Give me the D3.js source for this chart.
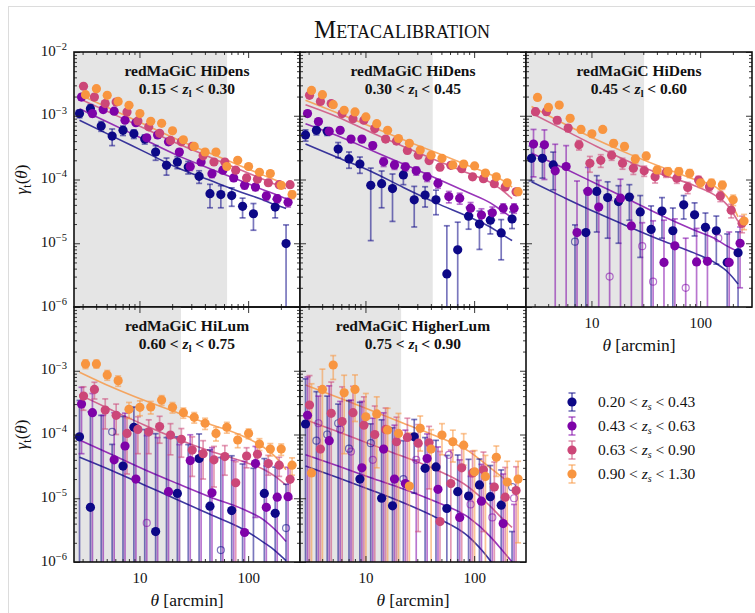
<!DOCTYPE html>
<html>
<head>
<meta charset="utf-8">
<script src="https://cdn.jsdelivr.net/npm/d3@7"></script>
<style>
    body { margin: 0; background: #fff; }
    svg text { font-family: "Liberation Serif", "DejaVu Serif", serif; fill: #111; }
</style>
</head>
<body>
<svg id="chart" width="755" height="613"></svg>
<script>
// angular bins (arcmin) of the measurement and of the model curves
const theta = [2.81, 3.54, 4.45, 5.61, 7.06, 8.89, 11.19, 14.09, 17.74, 22.33,
    28.11, 35.39, 44.56, 56.09, 70.61, 88.90, 111.9, 140.9, 177.4, 223.3];
const thetaModel = [2.81, 5.61, 11.19, 22.33, 44.56, 88.90, 140.9, 177.4, 223.3];

const panelNames = ['redMaGiC HiDens', 'redMaGiC HiDens', 'redMaGiC HiDens', 'redMaGiC HiLum', 'redMaGiC HigherLum'];
const lensRanges = [['0.15', '0.30'], ['0.30', '0.45'], ['0.45', '0.60'], ['0.60', '0.75'], ['0.75', '0.90']];
const scaleCuts = [64, 41.6, 30.5, 24.1, 21.3];
const sourceRanges = [['0.20', '0.43'], ['0.43', '0.63'], ['0.63', '0.90'], ['0.90', '1.30']];

// gamma_t in units of 1e-5, one row per source bin; negative values are drawn hollow
const gammaL1 = [
    [108, 129, 69, 48, 59, 52, 43, 27, 16.7, 18.8, 15.7, 11.2, 6.0, 5.8, 5.6, 3.8, 2.9, null, 3.7, 0.99],
    [196, 108, 125, 118, 85, 78, 45, 50, 39, 27, 16, 18.8, 12.3, 14, 10.6, 8.1, 7.6, 5.5, 5.0, 4.4],
    [290, 196, 155, 164, 115, 83, 67, 53, 41, 39, 33, 23.5, 18.8, 18.8, 14, 10.6, 10.1, 8.9, 8.3, 8.3],
    [214, 266, 209, 168, 146, 108, 82, 76, 58, 42, 33, 27, 27, 16, 20, 16, 13, 12.4, 8.1, 5.8]
];
const errorL1 = [
    [15, 20, 12, 14, 10, 8, 7, 7, 5, 4, 3.5, 2.5, 2.4, 2.2, 1.8, 1.3, 1.3, null, 1.2, 0.95],
    [20, 12, 12, 11, 8, 7, 5, 5, 4, 3, 2.2, 2, 1.6, 1.5, 1.2, 1, 0.9, 0.8, 0.7, 0.7],
    [25, 18, 14, 14, 10, 8, 6, 5, 4, 3.5, 3, 2.3, 1.9, 1.7, 1.4, 1.1, 1, 0.9, 0.8, 0.8],
    [20, 22, 18, 15, 12, 9, 7, 6, 5, 4, 3, 2.5, 2.4, 1.6, 1.8, 1.5, 1.2, 1.1, 0.9, 0.8]
];
const modelL1 = [
    [85, 47.9, 27.1, 15.3, 9.7, 6.2, 4.7, 4.0, 3.5],
    [129, 73.5, 41.9, 23.9, 14.8, 9.3, 6.8, 5.85, 5.0],
    [185, 108, 63, 36.7, 22.4, 13.7, 9.9, 8.4, 7.2],
    [214, 125, 72.8, 42.4, 25.8, 15.9, 11.5, 9.8, 8.3]
];

const gammaL2 = [
    [50, 59, 57, 30, 21, 17.5, 8.1, 8.6, 7.2, 11.8, 4.8, 5.7, 4.8, 0.33, 0.79, 2.66, 2.0, 2.3, 1.45, 2.4],
    [108, 81, 57, 59, 43, 43, 34, 19, 16.9, 15.8, 13.7, 11, 8.7, 5.4, 5.1, 3.55, 2.77, 3.0, 3.55, 3.55],
    [209, 168, 155, 108, 90, 85, 63, 43, 40, 28.6, 24, 19.8, 15.6, 16.7, 14.8, 11, 10.3, 8.6, 7.6, 6.4],
    [250, 214, 149, 122, 115, 96, 75, 59, 44, 37, 29, 24, 21.5, 16.9, 17.5, 16.3, 12.6, 11, 8.9, 6.45]
];
const errorL2 = [
    [10, 9, 8, 8, 6, 5, 7, 5, 5, 3.5, 3, 2, 2, 1.55, 1.35, 1.0, 1.2, 0.9, 0.9, 0.7],
    [10, 8, 6, 6, 5, 5, 4, 3, 2.5, 2.2, 2, 1.7, 1.4, 1.1, 1.0, 0.8, 0.7, 0.7, 0.6, 0.6],
    [16, 14, 12, 9, 8, 7, 6, 4, 4, 3, 2.5, 2, 1.7, 1.6, 1.4, 1.1, 1, 0.9, 0.8, 0.7],
    [18, 15, 12, 10, 9, 8, 6, 5, 4, 3.5, 3, 2.5, 2, 1.7, 1.6, 1.5, 1.2, 1, 0.9, 0.8]
];
const modelL2 = [
    [36, 22, 13.5, 7.5, 4.3, 2.6, 1.8, 1.4, 1.1],
    [75, 48, 29, 17.5, 10.5, 6.2, 4.3, 3.3, 2.5],
    [149, 95, 55, 33, 20, 12.5, 9, 7, 5],
    [175, 109, 68, 42, 26.5, 16.5, 12, 10, 7.6]
];

const gammaL3 = [
    [21.5, 21.5, 16.9, null, -1.06, 1.47, 6.5, 5.2, 4.5, 5.3, 3.1, 1.65, 3.2, 1.57, 4.0, 2.8, 1.78, 1.57, 0.5, 0.71],
    [36, 35, 13.7, 16, 1.47, 6.5, 3.7, -0.3, 5.1, 1.87, -0.9, -0.25, 0.5, 0.91, -0.2, 0.51, 0.52, -1.2, 0.5, 1.0],
    [116, 116, 85, 64, 35, 18, 20, 24, 18, 15, 13.7, 11, 12.8, 10.5, 7.5, 9.8, 7.7, 5.5, 3.3, 2.06],
    [194, 135, 147, 91, 61, 52, 61, 37, 33, 21, 23.4, 14.1, 13.3, 13.3, 12.5, 8.9, 8.8, 8.2, 4.8, 2.23]
];
const errorL3 = [
    [12, 11, 10, null, 3, 5.3, 5, 4, 3.5, 3, 2.5, 2.2, 2, 2, 1.6, 1.5, 1.2, 1.1, 0.9, 0.8],
    [25, 25, 22, 18, 8, 9, 6, 5, 5, 3.5, 3, 2.5, 1.8, 1.5, 1.4, 1.2, 1.2, 1.0, 1.0, 0.8],
    [14, 13, 10, 8, 6, 5, 4.5, 4, 3.5, 3, 2.5, 2.2, 2, 1.8, 1.5, 1.4, 1.2, 1, 0.8, 0.6],
    [18, 14, 14, 10, 7, 6, 6, 4.5, 4, 3, 3, 2, 2, 2, 1.8, 1.4, 1.3, 1.2, 0.9, 0.6]
];
const modelL3 = [
    [9.2, 5.2, 3.0, 1.8, 1.1, 0.7, 0.48, 0.36, 0.23],
    [26, 15, 8.5, 4.8, 2.7, 1.6, 1.15, 0.9, 0.74],
    [110, 60, 33, 19, 12, 8, 5.5, 4.0, 2.2],
    [140, 75, 42, 25, 15.5, 10, 7.5, 5.3, 2.6]
];

const gammaL4 = [
    [9.2, 0.72, -0.05, -11, 3.2, 13, -0.05, 0.3, -0.05, 1.19, -0.05, 4.2, 0.75, -0.154, 0.64, -0.05, -0.05, 1.19, 0.58, -0.34],
    [30, 22, -0.05, 4.0, 6.6, 2.0, -0.41, -0.05, 1.27, -0.05, 3.9, -0.05, 1.22, -0.05, -0.05, 0.29, 3.5, 0.72, 1.04, 1.06],
    [40, 51, 24.2, 20, 10.4, 12, 11, 13.3, 9.8, 8.4, 5.7, 5.0, 4.0, 4.5, 1.75, 4.6, 4.9, 3.5, 3.3, 1.98],
    [128, 128, 86, 70, 24.8, 26.7, 27, 34.7, 26.7, 22, 18.6, 15, 10.4, 13, 8.2, 10.4, 7.1, 5.9, 5.9, 3.3]
];
const errorL4 = [
    [25, 22, 20, 18, 16, 14, 12, 10, 9, 8, 7, 6, 5, 4.5, 4, 3.5, 3, 3, 2.5, 2],
    [25, 22, 20, 18, 15, 12, 10, 9, 8, 7, 6, 5.5, 5, 4.5, 4, 3.5, 3, 2.5, 2.2, 2],
    [16, 15, 12, 10, 8, 7, 6, 6, 5, 4, 3.5, 3, 2.5, 2.2, 2, 1.6, 1.5, 1.2, 1.1, 1],
    [20, 18, 15, 13, 7, 7, 6, 6, 5, 4, 3.5, 3, 2.5, 2.5, 2, 1.8, 1.5, 1.3, 1.2, 1]
];
const modelL4 = [
    [4.4, 2.7, 1.6, 0.95, 0.56, 0.33, 0.2, 0.15, 0.105],
    [8.2, 4.8, 2.8, 1.7, 1.05, 0.68, 0.45, 0.32, 0.21],
    [42, 24, 14, 8.5, 5.5, 3.8, 2.8, 2.2, 1.6],
    [95, 55, 34, 22, 14.5, 9.5, 6.2, 4.5, 2.8]
];

const gammaL5 = [
    [14.6, -8, -10, -15, -6, 2, -7.3, 1, 0.76, -2, 9.2, 2.95, 3.1, 0.69, 1.27, 1.08, 1.62, 1.06, 0.78, -1.5],
    [20, -15, 8, -12, -5.4, 3, -4, 5.9, 2, 1.7, -4.0, 4.2, 1.38, -4.8, 0.5, -0.8, 0.9, -0.5, 0.4, -1.0],
    [29, 5.9, 21.5, 16, 22, 14, 10, 12, 7.7, 9, 7.3, 7.4, 0.43, 1.7, 3, 2.5, 2.8, 1.5, 1.04, 1.32],
    [2.5, 51, 123, 45, 51, 19, 21, 11.8, 10.4, 1.55, 12.5, 5.9, 9.8, 7.7, 6.8, 2.6, 2.2, 4.4, 1.8, 2.0]
];
const errorL5 = [
    [60, 55, 50, 45, 40, 30, 22, 16, 12, 10, 8, 6, 5, 4, 3.5, 3, 2.5, 2.2, 2, 1.8],
    [60, 55, 50, 45, 40, 30, 22, 16, 12, 10, 8, 6, 5, 4, 3.5, 3, 2.5, 2.2, 2, 1.8],
    [55, 50, 45, 40, 35, 25, 18, 14, 11, 9, 7, 6, 5, 4, 3.5, 3, 2.5, 2.2, 2, 1.8],
    [60, 55, 50, 40, 35, 25, 18, 14, 11, 9, 7, 6, 5, 4, 3.5, 3, 2.5, 2.2, 2, 1.8]
];
const modelL5 = [
    [3.2, 2.1, 1.35, 0.85, 0.5, 0.25, 0.105, 0.06, 0.04],
    [4.8, 3.2, 2.1, 1.4, 0.88, 0.5, 0.25, 0.16, 0.1],
    [17, 11, 7, 4.5, 2.8, 1.5, 0.75, 0.5, 0.35],
    [60, 38, 24, 15, 9.5, 5.5, 3.0, 2.2, 1.6]
];

const UNIT = 1e-5;
const colors = ['#0d0887', '#7e03a8', '#cc4778', '#f89540'];
const dodge = [0, 2, 4, 6];

const W = 226, H = 255;
const gridLeft = 74, gridTop = 52;
const cells = [[0, 0], [1, 0], [2, 0], [0, 1], [1, 1]];
const panels = [
    {gamma: gammaL1, error: errorL1, model: modelL1},
    {gamma: gammaL2, error: errorL2, model: modelL2},
    {gamma: gammaL3, error: errorL3, model: modelL3},
    {gamma: gammaL4, error: errorL4, model: modelL4},
    {gamma: gammaL5, error: errorL5, model: modelL5}
];

const svg = d3.select('#chart');
const x = d3.scaleLog().domain([2.5, 300]).range([0, W]);
const y = d3.scaleLog().domain([1e-6, 1e-2]).range([H, 0]);

// light frame around the figure
svg.append('rect')
    .attr('x', 8.5).attr('y', 6.5)
    .attr('width', 800).attr('height', 700)
    .attr('fill', 'none').attr('stroke', '#dcdcdc');

svg.append('text')
    .attr('x', 402).attr('y', 38)
    .attr('text-anchor', 'middle')
    .style('font-size', '25px')
    .style('font-variant', 'small-caps')
    .text('Metacalibration');

const minorX = [3, 4, 5, 6, 7, 8, 9, 20, 30, 40, 50, 60, 70, 80, 90, 200];
const majorX = [10, 100];
const majorY = [1e-6, 1e-5, 1e-4, 1e-3, 1e-2];
const minorY = [];
majorY.slice(0, 4).forEach(d => d3.range(2, 10).forEach(k => minorY.push(d * k)));

const line = d3.line()
    .x(d => x(d[0]))
    .y(d => y(d[1]))
    .curve(d3.curveMonotoneX);

panels.forEach((p, pi) => {
    let [cx, cy] = cells[pi];
    let g = svg.append('g')
        .attr('transform', 'translate(' + (gridLeft + cx * W) + ',' + (gridTop + cy * H) + ')');

    g.append('clipPath').attr('id', 'clip' + pi)
        .append('rect').attr('width', W).attr('height', H);
    let plot = g.append('g').attr('clip-path', 'url(#clip' + pi + ')');

    plot.append('rect')
        .attr('width', x(scaleCuts[pi]))
        .attr('height', H)
        .attr('fill', '#e5e5e5');

    // model curves
    p.model.forEach((m, s) => {
        plot.append('path')
            .attr('d', line(thetaModel.map((t, i) => [t, m[i] * UNIT])))
            .attr('fill', 'none')
            .attr('stroke', colors[s])
            .attr('stroke-opacity', 0.8)
            .attr('stroke-width', 1.6);
    });

    // error bars
    p.gamma.forEach((vals, s) => {
        let pts = theta.map((t, i) => ({t: t, v: vals[i], e: p.error[s][i]}))
            .filter(d => d.v !== null && d.e !== null && d.v + d.e > 0);
        let bars = plot.append('g')
            .attr('stroke', colors[s])
            .attr('stroke-opacity', 0.55)
            .attr('stroke-width', 1.7);
        pts.forEach(d => {
            let xp = x(d.t) + dodge[s];
            let y1 = y((d.v + d.e) * UNIT);
            let y0 = d.v - d.e > 0 ? y((d.v - d.e) * UNIT) : H + 10;
            bars.append('line').attr('x1', xp).attr('x2', xp).attr('y1', y1).attr('y2', y0);
            bars.append('line').attr('x1', xp - 3).attr('x2', xp + 3).attr('y1', y1).attr('y2', y1);
            if (y0 < H) {
                bars.append('line').attr('x1', xp - 3).attr('x2', xp + 3).attr('y1', y0).attr('y2', y0);
            }
        });
    });

    // points: filled for positive, hollow for negative signal
    p.gamma.forEach((vals, s) => {
        let pts = theta.map((t, i) => ({t: t, v: vals[i]})).filter(d => d.v !== null);
        plot.selectAll('.pt' + s)
            .data(pts)
            .enter()
            .append('circle')
            .attr('cx', d => x(d.t) + dodge[s])
            .attr('cy', d => y(Math.abs(d.v) * UNIT))
            .attr('r', d => (d.v > 0 ? 4.6 : 3.5))
            .attr('fill', d => (d.v > 0 ? colors[s] : 'none'))
            .attr('stroke', colors[s])
            .attr('stroke-opacity', d => (d.v > 0 ? 0 : 0.55))
            .attr('stroke-width', 1.2);
    });

    // ticks on all four sides, pointing inwards
    let axes = [
        [d3.axisBottom(x), 'translate(0,' + H + ')', majorX, minorX],
        [d3.axisTop(x), null, majorX, minorX],
        [d3.axisLeft(y), null, majorY, minorY],
        [d3.axisRight(y), 'translate(' + W + ',0)', majorY, minorY]
    ];
    axes.forEach(([ax, tr, major, minor]) => {
        let a1 = g.append('g').call(ax.tickValues(major).tickSize(-6).tickFormat(''));
        let a2 = g.append('g').call(ax.tickValues(minor).tickSize(-3).tickFormat(''));
        [a1, a2].forEach(a => {
            if (tr) a.attr('transform', tr);
            a.select('.domain').remove();
            a.selectAll('line').attr('stroke', '#222').attr('stroke-width', 0.9);
        });
    });

    g.append('rect')
        .attr('width', W).attr('height', H)
        .attr('fill', 'none')
        .attr('stroke', '#111')
        .attr('stroke-width', 1.6);

    // x tick labels only where nothing sits below
    if (pi >= 2) {
        let xa = g.append('g')
            .attr('transform', 'translate(0,' + H + ')')
            .call(d3.axisBottom(x).tickValues(majorX).tickSize(0).tickPadding(10).tickFormat(d3.format('d')));
        xa.select('.domain').remove();
        xa.selectAll('text')
            .style('font-family', '"Liberation Serif", serif')
            .style('font-size', '15px')
            .attr('fill', '#333');
        let lab = g.append('text')
            .attr('x', W / 2).attr('y', H + 44)
            .attr('text-anchor', 'middle')
            .style('font-size', '17.5px');
        lab.append('tspan').style('font-style', 'italic').text('θ');
        lab.append('tspan').text(' [arcmin]');
    }

    // y tick labels on the left column
    if (cx === 0) {
        let ya = g.append('g')
            .call(d3.axisLeft(y).tickValues(cy === 0 ? majorY : majorY.slice(0, 4)).tickSize(0).tickPadding(7));
        ya.select('.domain').remove();
        ya.selectAll('text').each(function (d) {
            let t = d3.select(this).text(null)
                .style('font-family', '"Liberation Serif", serif')
                .attr('fill', '#444');
            t.append('tspan').style('font-size', '15px').text('10');
            t.append('tspan').attr('dy', '-0.55em').style('font-size', '10.5px')
                .text('\u2212' + Math.round(-Math.log10(d)));
        });
        let yl = g.append('text')
            .attr('transform', 'translate(-47,' + (H / 2) + ') rotate(-90)')
            .attr('text-anchor', 'middle')
            .style('font-size', '17px');
        yl.append('tspan').style('font-style', 'italic').text('γ');
        yl.append('tspan').attr('dy', 4).style('font-size', '12px').text('t');
        yl.append('tspan').attr('dy', -4).text('(');
        yl.append('tspan').style('font-style', 'italic').text('θ');
        yl.append('tspan').text(')');
    }

    // panel title
    let title = g.append('text')
        .attr('x', W / 2).attr('text-anchor', 'middle')
        .style('font-weight', 'bold')
        .style('font-size', '15.5px');
    title.append('tspan').attr('x', W / 2).attr('y', 24).text(panelNames[pi]);
    let l2 = title.append('tspan').attr('x', W / 2).attr('y', 42);
    l2.append('tspan').text(lensRanges[pi][0] + ' < ');
    l2.append('tspan').style('font-style', 'italic').text('z');
    l2.append('tspan').attr('dy', 3).style('font-size', '10px').text('l');
    l2.append('tspan').attr('dy', -3).text(' < ' + lensRanges[pi][1]);
});

// legend in the empty cell
let legend = svg.append('g').attr('transform', 'translate(572,402)');
sourceRanges.forEach((r, s) => {
    let row = legend.append('g').attr('transform', 'translate(0,' + (s * 24) + ')');
    row.append('line').attr('y1', -9).attr('y2', 9)
        .attr('stroke', colors[s]).attr('stroke-opacity', 0.55).attr('stroke-width', 1.7);
    [-9, 9].forEach(v => row.append('line')
        .attr('x1', -3.5).attr('x2', 3.5).attr('y1', v).attr('y2', v)
        .attr('stroke', colors[s]).attr('stroke-opacity', 0.55).attr('stroke-width', 1.7));
    row.append('circle').attr('r', 4.6).attr('fill', colors[s]);
    let t = row.append('text').attr('x', 26).attr('y', 5).style('font-size', '15.5px');
    t.append('tspan').text(r[0] + ' < ');
    t.append('tspan').style('font-style', 'italic').text('z');
    t.append('tspan').attr('dy', 3).style('font-size', '10px').style('font-style', 'italic').text('s');
    t.append('tspan').attr('dy', -3).text(' < ' + r[1]);
});
</script>
</body>
</html>
